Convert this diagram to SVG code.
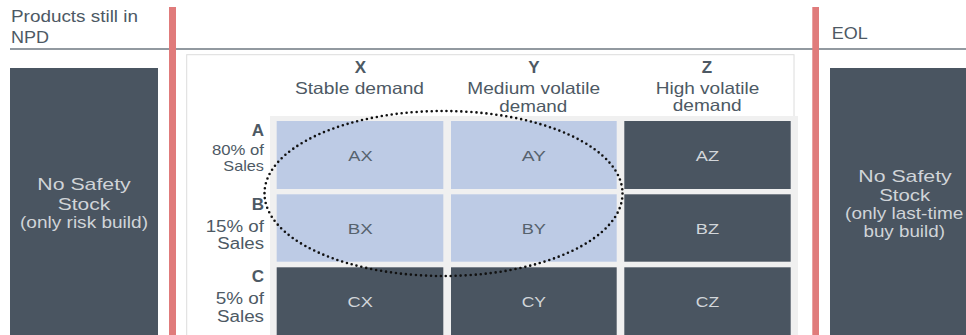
<svg xmlns="http://www.w3.org/2000/svg" width="966" height="335" viewBox="0 0 966 335">
<style>
text{font-family:"Liberation Sans",Arial,sans-serif;}
.hd{font-size:16.5px;fill:#4d5964;}
.hb{font-size:17px;fill:#4d5964;font-weight:bold;text-anchor:middle;}
.hm{font-size:16.5px;fill:#4d5964;text-anchor:middle;}
.rl{fill:#4d5964;text-anchor:end;}
.dark{fill:#4a5561;}
.light{fill:#bdcbe5;}
.tl{font-size:15px;fill:#56626d;text-anchor:middle;}
.td{font-size:15px;fill:#d2d6da;text-anchor:middle;}
.tb{font-size:17px;fill:#d0d4d8;text-anchor:middle;}
.red{fill:#e07b7b;}
</style>
<rect width="966" height="335" fill="#ffffff"/>
<g id="panel">
<rect x="186.7" y="54.7" width="607.3" height="290" fill="#ffffff" stroke="#dcdcdc" stroke-width="1"/>
<rect x="270" y="116" width="528" height="230" fill="#f0f0f0"/>
</g>
<g id="header-line">
<line x1="10" y1="49" x2="966" y2="49" stroke="#6e7780" stroke-width="1.5"/>
</g>
<g id="npd-label">
<text class="hd" x="11" y="22" textLength="127" lengthAdjust="spacingAndGlyphs">Products still in</text>
<text class="hd" x="11" y="43" textLength="38" lengthAdjust="spacingAndGlyphs">NPD</text>
</g>
<g id="eol-label">
<text class="hd" x="831.7" y="39" textLength="36" lengthAdjust="spacingAndGlyphs">EOL</text>
</g>
<g id="bar-left"><rect class="red" x="169" y="7" width="7" height="330"/></g>
<g id="bar-right"><rect class="red" x="812.3" y="7" width="6.7" height="330"/></g>
<g id="npd-box">
<rect class="dark" x="10" y="68" width="148" height="270"/>
<text class="tb" x="84" y="190" textLength="93.5" lengthAdjust="spacingAndGlyphs">No Safety</text>
<text class="tb" x="84" y="209.5" textLength="52.5" lengthAdjust="spacingAndGlyphs">Stock</text>
<text class="tb" x="84" y="228" textLength="128" lengthAdjust="spacingAndGlyphs">(only risk build)</text>
</g>
<g id="eol-box">
<rect class="dark" x="830" y="68" width="140" height="270"/>
<text class="tb" x="905" y="181.5" textLength="93.4" lengthAdjust="spacingAndGlyphs">No Safety</text>
<text class="tb" x="904.7" y="200.5" textLength="51" lengthAdjust="spacingAndGlyphs">Stock</text>
<text class="tb" x="904.2" y="218.5" textLength="118.3" lengthAdjust="spacingAndGlyphs">(only last-time</text>
<text class="tb" x="904.2" y="236.5" textLength="81.5" lengthAdjust="spacingAndGlyphs">buy build)</text>
</g>
<g id="col-x">
<text class="hb" x="360.5" y="73.3">X</text>
<text class="hm" x="359.5" y="94.3" textLength="129" lengthAdjust="spacingAndGlyphs">Stable demand</text>
</g>
<g id="col-y">
<text class="hb" x="534" y="73.3">Y</text>
<text class="hm" x="533.7" y="94.3" textLength="132.7" lengthAdjust="spacingAndGlyphs">Medium volatile</text>
<text class="hm" x="533.3" y="111.7" textLength="68" lengthAdjust="spacingAndGlyphs">demand</text>
</g>
<g id="col-z">
<text class="hb" x="707" y="73">Z</text>
<text class="hm" x="707.5" y="93.5" textLength="103.6" lengthAdjust="spacingAndGlyphs">High volatile</text>
<text class="hm" x="707.2" y="111.2" textLength="69" lengthAdjust="spacingAndGlyphs">demand</text>
</g>
<g id="row-a">
<text class="rl" x="264" y="136" font-size="17" font-weight="bold">A</text>
<text class="rl" x="264" y="155" font-size="14.5" textLength="52" lengthAdjust="spacingAndGlyphs">80% of</text>
<text class="rl" x="264" y="170.7" font-size="14.5" textLength="40.7" lengthAdjust="spacingAndGlyphs">Sales</text>
</g>
<g id="row-b">
<text class="rl" x="264" y="210" font-size="17" font-weight="bold">B</text>
<text class="rl" x="264" y="231.5" font-size="16" textLength="58.3" lengthAdjust="spacingAndGlyphs">15% of</text>
<text class="rl" x="264" y="249" font-size="16" textLength="46.7" lengthAdjust="spacingAndGlyphs">Sales</text>
</g>
<g id="row-c">
<text class="rl" x="264" y="281.7" font-size="17" font-weight="bold">C</text>
<text class="rl" x="264" y="304" font-size="16" textLength="48.3" lengthAdjust="spacingAndGlyphs">5% of</text>
<text class="rl" x="264" y="321.7" font-size="16" textLength="47" lengthAdjust="spacingAndGlyphs">Sales</text>
</g>
<g id="cell-ax"><rect class="light" x="276.7" y="121" width="166.6" height="68"/><text class="tl" x="360.5" y="161" textLength="24.4" lengthAdjust="spacingAndGlyphs">AX</text></g>
<g id="cell-ay"><rect class="light" x="451" y="121" width="165.7" height="68"/><text class="tl" x="533.8" y="161" textLength="24.3" lengthAdjust="spacingAndGlyphs">AY</text></g>
<g id="cell-az"><rect class="dark" x="624.3" y="121" width="166.4" height="68"/><text class="td" x="707.5" y="161" textLength="23.3" lengthAdjust="spacingAndGlyphs">AZ</text></g>
<g id="cell-bx"><rect class="light" x="276.7" y="194.3" width="166.6" height="67.4"/><text class="tl" x="360.2" y="234" textLength="25" lengthAdjust="spacingAndGlyphs">BX</text></g>
<g id="cell-by"><rect class="light" x="451" y="194.3" width="165.7" height="67.4"/><text class="tl" x="533.8" y="234" textLength="24.3" lengthAdjust="spacingAndGlyphs">BY</text></g>
<g id="cell-bz"><rect class="dark" x="624.3" y="194.3" width="166.4" height="67.4"/><text class="td" x="707.5" y="234" textLength="23.3" lengthAdjust="spacingAndGlyphs">BZ</text></g>
<g id="cell-cx"><rect class="dark" x="276.7" y="267.3" width="166.6" height="70"/><text class="td" x="360.2" y="306.7" textLength="25.3" lengthAdjust="spacingAndGlyphs">CX</text></g>
<g id="cell-cy"><rect class="dark" x="451" y="267.3" width="165.7" height="70"/><text class="td" x="533.8" y="306.7" textLength="24.3" lengthAdjust="spacingAndGlyphs">CY</text></g>
<g id="cell-cz"><rect class="dark" x="624.3" y="267.3" width="166.4" height="70"/><text class="td" x="707.5" y="306.7" textLength="23.3" lengthAdjust="spacingAndGlyphs">CZ</text></g>
<g id="focus-ellipse">
<ellipse cx="443.5" cy="193.5" rx="179" ry="82.5" fill="none" stroke="#111111" stroke-width="2.6" stroke-dasharray="0 5" stroke-linecap="round"/>
</g>
</svg>
